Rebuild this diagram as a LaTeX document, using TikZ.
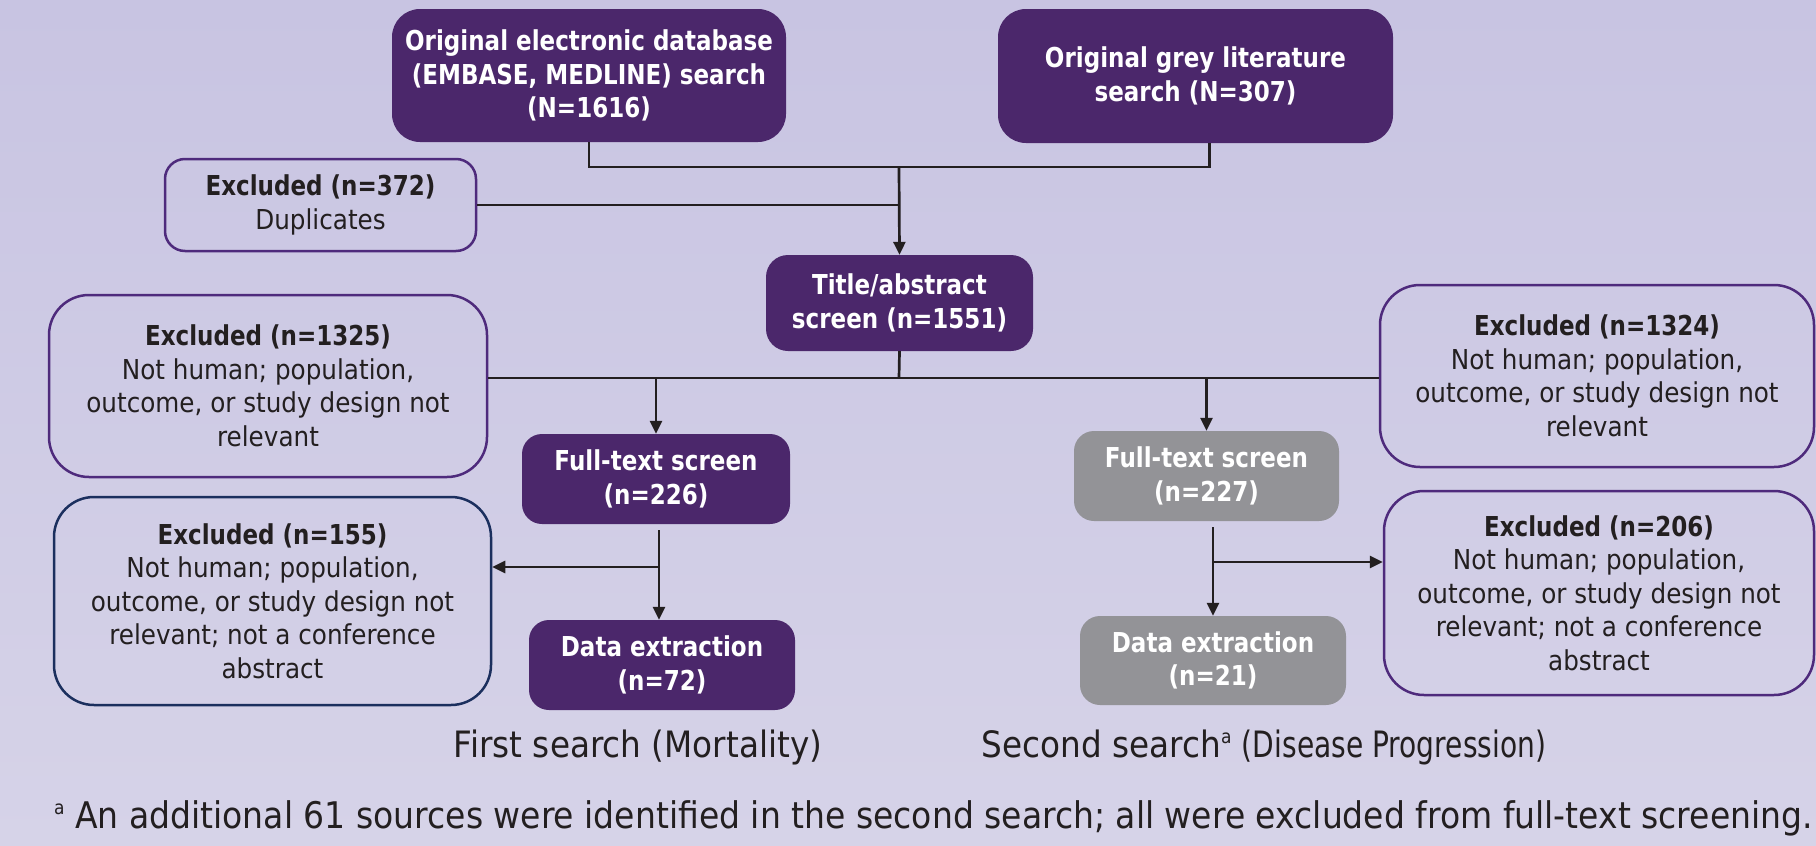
\documentclass[tikz,border=0pt]{standalone}
\usepackage{fontspec}
\usepackage{graphicx}
\setmainfont{DejaVu Sans}[FakeStretch=0.9, BoldFeatures={FakeStretch=0.84}]
\usetikzlibrary{arrows.meta}
\definecolor{bgtop}{HTML}{C8C4E2}
\definecolor{bgbot}{HTML}{D6D3E8}
\definecolor{dpurple}{HTML}{4B276B}
\definecolor{bpurple}{HTML}{4E2A7C}
\definecolor{navyb}{HTML}{1B2F5E}
\definecolor{greybox}{HTML}{939397}
\definecolor{ink}{HTML}{231F20}
\newcommand\boxfont{\fontsize{27.4}{33.5}\selectfont}
\newcommand\capfont{\fontsize{36.3}{42}\selectfont}
\newcommand\footfont{\fontsize{36.7}{42}\selectfont}
\newcommand\supa{\raisebox{14pt}{\fontsize{19}{19}\selectfont a}}
\begin{document}
\begin{tikzpicture}[x=1pt,y=-1pt,
  solidbox/.style={rectangle, rounded corners=22pt, fill=dpurple, draw=none, text=white,
    font=\boxfont\bfseries, align=center, inner sep=0pt},
  greyfill/.style={solidbox, fill=greybox},
  exbox/.style={rectangle, rounded corners=40pt, draw=bpurple, line width=2.5pt, text=ink,
    font=\boxfont, align=center, inner sep=0pt},
  conn/.style={draw=ink, line width=2.7pt},
  arr/.style={conn, -{Triangle[length=13pt,width=12pt]}},
  caption/.style={text=ink, inner sep=0pt}
]
\useasboundingbox (0,0) rectangle (1816,846);
\shade[top color=bgtop, bottom color=bgbot] (0,0) rectangle (1816,846);

% top boxes
\node[solidbox, rounded corners=28pt, minimum width=394pt, minimum height=133pt] (A) at (589,75.5)
  {Original electronic database\\(EMBASE, MEDLINE) search\\(N=1616)};
\node[solidbox, rounded corners=28pt, minimum width=395pt, minimum height=134pt] (B) at (1195.5,76)
  {Original grey literature\\search (N=307)};
\node[exbox, rounded corners=20pt, minimum width=311pt, minimum height=92pt] (C) at (320.5,205)
  {\textbf{Excluded (n=372)}\\Duplicates};
\node[solidbox, minimum width=267pt, minimum height=96pt] (D) at (899.5,303)
  {Title/abstract\\screen (n=1551)};

% second level
\node[exbox, minimum width=438pt, minimum height=182pt] (E) at (268,386)
  {\textbf{Excluded (n=1325)}\\Not human; population,\\outcome, or study design not\\relevant};
\node[exbox, minimum width=434pt, minimum height=182pt] (F) at (1597,376)
  {\textbf{Excluded (n=1324)}\\Not human; population,\\outcome, or study design not\\relevant};
\node[solidbox, rounded corners=20pt, minimum width=268pt, minimum height=90pt] (FT1) at (656,479)
  {Full-text screen\\(n=226)};
\node[greyfill, rounded corners=20pt, minimum width=265pt, minimum height=90pt] (FT2) at (1206.5,476)
  {Full-text screen\\(n=227)};

% third level
\node[exbox, draw=navyb, minimum width=437pt, minimum height=208pt] (G) at (272.5,601)
  {\textbf{Excluded (n=155)}\\Not human; population,\\outcome, or study design not\\relevant; not a conference\\abstract};
\node[exbox, minimum width=430pt, minimum height=204pt] (H) at (1599,593)
  {\textbf{Excluded (n=206)}\\Not human; population,\\outcome, or study design not\\relevant; not a conference\\abstract};
\node[solidbox, rounded corners=20pt, minimum width=266pt, minimum height=90pt] (DE1) at (662,665)
  {Data extraction\\(n=72)};
\node[greyfill, rounded corners=20pt, minimum width=266pt, minimum height=89pt] (DE2) at (1213,660.5)
  {Data extraction\\(n=21)};

% captions
\node[caption, font=\capfont] (cap1) at (638,747) {First search (Mortality)};
\node[caption, font=\capfont] (cap2) at (1264,747) {Second search\supa{} \scalebox{0.86}[1]{(Disease Progression)}};
\node[caption, font=\footfont, anchor=west] (foot) at (54,818)
  {\supa{} An additional 61 sources were identified in the second search; all were excluded from full-text screening.};

% connectors
\coordinate (j1) at (899,167);
\draw[conn] (A.south) |- (j1);
\draw[conn] ([xshift=14pt]B.south) |- (j1);
\draw[arr] (j1) -- (D.north);
\draw[conn] (C.east) -- (C.east -| j1);
\coordinate (j2) at (899,378);
\draw[conn] (D.south) -- (j2);
\draw[conn] (E.east |- j2) -- (F.west |- j2);
\coordinate (b1) at (656,378);
\draw[arr] (b1) -- (FT1.north);
\coordinate (b2) at (1206.5,378);
\draw[arr] (b2) -- (FT2.north);
\coordinate (s1) at (659,530);
\coordinate (k1) at (659,567);
\draw[arr] (s1) -- (s1 |- DE1.north);
\draw[arr] (k1) -- (k1 -| G.east);
\coordinate (s2) at (1213,527);
\coordinate (k2) at (1213,562);
\draw[arr] (s2) -- (s2 |- DE2.north);
\draw[arr] (k2) -- (k2 -| H.west);
\end{tikzpicture}
\end{document}
